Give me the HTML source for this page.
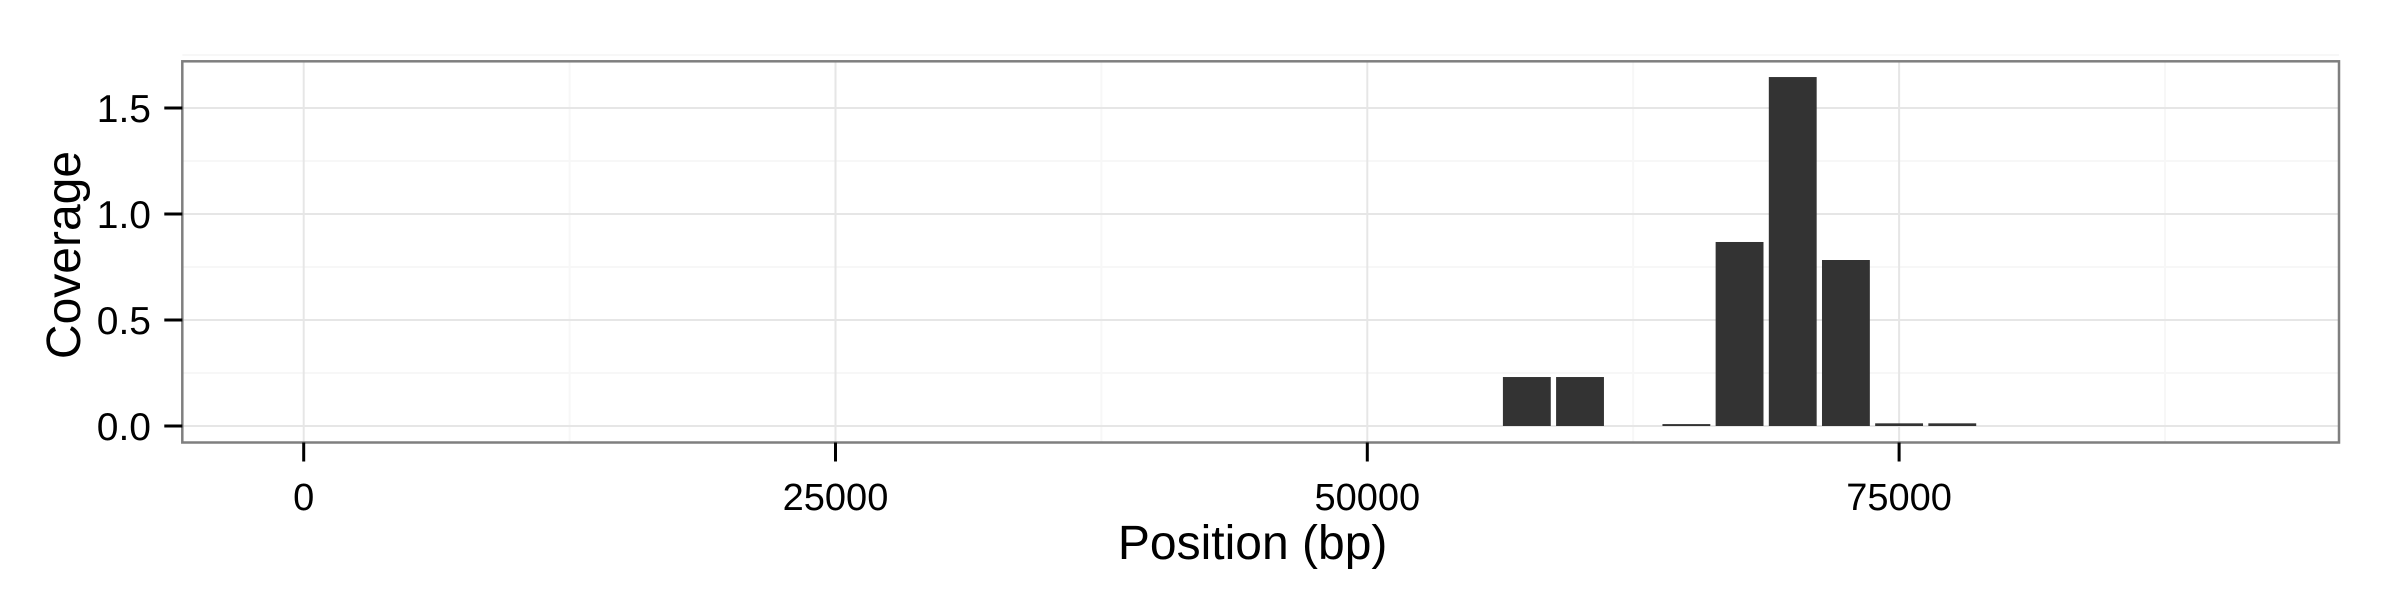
<!DOCTYPE html>
<html><head><meta charset="utf-8"><style>
html,body{margin:0;padding:0;background:#fff;}
svg{display:block;font-family:"Liberation Sans",Arial,sans-serif;}
</style></head><body>
<svg id="chart" width="2400" height="600" xmlns="http://www.w3.org/2000/svg"></svg>
<script>
const positions = [57500, 60000, 65000, 67500, 70000, 72500, 75000, 77500];
const coverage = [0.231, 0.231, 0.009, 0.868, 1.646, 0.783, 0.0126, 0.0126];
const xTicks = [0, 25000, 50000, 75000];
const xTickLabels = ["0", "25000", "50000", "75000"];
const yTicks = [0, 0.5, 1.0, 1.5];
const yTickLabels = ["0.0", "0.5", "1.0", "1.5"];
const binWidth = 2500;

const svg = document.getElementById('chart');
const NS = 'http://www.w3.org/2000/svg';
const P = {l:182.3, r:2339, t:61.3, b:442.5};
const xPx = v => 303.7 + v * (1063.6/50000);
const yPx = v => 426 - v * 212;
function mk(tag, attrs, parent){
  const e = document.createElementNS(NS, tag);
  for (const k in attrs) e.setAttribute(k, attrs[k]);
  (parent||svg).appendChild(e);
  return e;
}
const panel = mk('rect',{x:P.l,y:P.t,width:P.r-P.l,height:P.b-P.t,fill:'#fff'});



for (let v=12500; v<=87500; v+=25000){
  const g = mk('line',{x1:xPx(v),x2:xPx(v),y1:P.t,y2:P.b,stroke:'#f7f7f7','stroke-width':2});
  
  
}
for (let v=0.25; v<=1.75; v+=0.5){
  const g = mk('line',{x1:P.l,x2:P.r,y1:yPx(v),y2:yPx(v),stroke:'#f7f7f7','stroke-width':2});
  
  
}
xTicks.forEach(v=>{
  const g = mk('line',{x1:xPx(v),x2:xPx(v),y1:P.t,y2:P.b,stroke:'#e6e6e6','stroke-width':2});
  
  
});
yTicks.forEach(v=>{
  const g = mk('line',{x1:P.l,x2:P.r,y1:yPx(v),y2:yPx(v),stroke:'#e6e6e6','stroke-width':2});
  
  
});
positions.forEach((p,i)=>{
  const w = binWidth*0.9*(1063.6/50000);
  const y0 = yPx(0), y1 = yPx(coverage[i]);
  const b = mk('rect',{x:xPx(p)-w/2,y:y1,width:w,height:y0-y1,fill:'#333333'});
  
  
});
const br = mk('rect',{x:P.l,y:P.t,width:P.r-P.l,height:P.b-P.t,fill:'none',stroke:'#7f7f7f','stroke-width':2.5});


xTicks.forEach((v,i)=>{
  const t = mk('line',{x1:xPx(v),x2:xPx(v),y1:P.b,y2:P.b+19,stroke:'#000','stroke-width':3});
  
  
  const l = mk('text',{x:xPx(v),y:510,'text-anchor':'middle','font-size':38,fill:'#000'});
  l.textContent = xTickLabels[i];
  
  
});
yTicks.forEach((v,i)=>{
  const t = mk('line',{x1:P.l-18,x2:P.l,y1:yPx(v),y2:yPx(v),stroke:'#000','stroke-width':3});
  
  
  const l = mk('text',{x:151,y:yPx(v)+14,'text-anchor':'end','font-size':39,fill:'#000'});
  l.textContent = yTickLabels[i];
  
  
});
const xt = mk('text',{x:(P.l+P.r)/2 - 8,y:559,'text-anchor':'middle','font-size':48,fill:'#000'});
xt.textContent = 'Position (bp)';


const yt = mk('text',{x:0,y:0,'text-anchor':'middle','font-size':48,fill:'#000',transform:'translate(80,255) rotate(-90)'});
yt.textContent = 'Coverage';


</script>
</body></html>
